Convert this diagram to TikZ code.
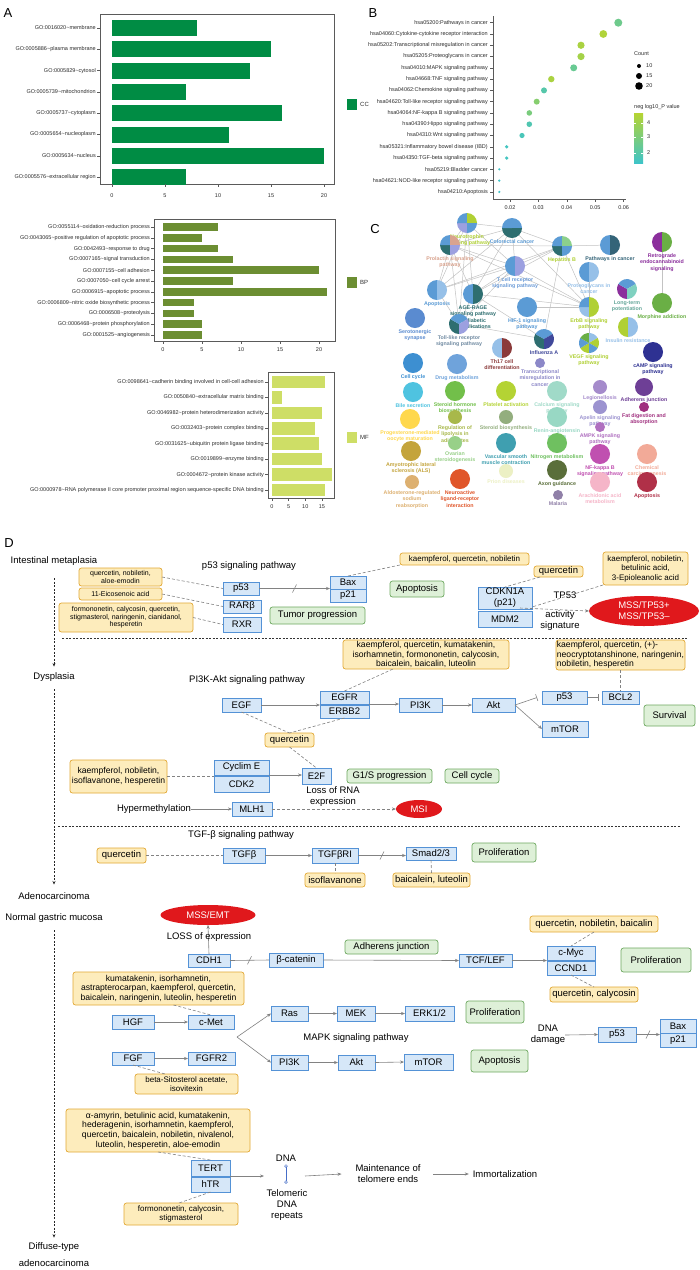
\documentclass[tikz,border=0pt]{standalone}
\usepackage{fontspec}
\setmainfont{Liberation Sans}
\usetikzlibrary{arrows.meta,shapes.geometric,calc}
\definecolor{ccg}{RGB}{0,140,68}
\definecolor{bpg}{RGB}{108,142,50}
\definecolor{mfg}{RGB}{206,222,102}
\definecolor{axc}{RGB}{90,90,90}
\definecolor{txc}{RGB}{45,45,45}
\definecolor{bl}{RGB}{62,196,200}
\definecolor{bh}{RGB}{182,212,50}
\definecolor{gbf}{RGB}{214,231,248}
\definecolor{gbd}{RGB}{84,146,214}
\definecolor{dbf}{RGB}{253,236,188}
\definecolor{dbd}{RGB}{226,168,52}
\definecolor{pbf}{RGB}{222,240,216}
\definecolor{pbd}{RGB}{110,168,96}
\definecolor{msr}{RGB}{224,24,28}
\definecolor{lnc}{RGB}{130,130,130}
\definecolor{dnab}{RGB}{70,110,200}
\definecolor{cedgec}{RGB}{195,195,195}
\definecolor{pb1}{RGB}{91,155,213}
\definecolor{plb}{RGB}{150,192,232}
\definecolor{pdt}{RGB}{46,110,112}
\definecolor{plp}{RGB}{156,160,224}
\definecolor{pyg}{RGB}{176,208,52}
\definecolor{pgl}{RGB}{140,208,140}
\definecolor{ptan}{RGB}{217,163,142}
\definecolor{pnv}{RGB}{64,72,154}
\definecolor{ppu}{RGB}{139,47,156}
\definecolor{pgr}{RGB}{106,175,69}
\definecolor{paq}{RGB}{127,209,192}
\definecolor{pdr}{RGB}{139,58,58}
\definecolor{pds}{RGB}{52,100,120}
\definecolor{pser}{RGB}{90,139,208}
\definecolor{pcam}{RGB}{46,49,146}
\definecolor{ptrm}{RGB}{140,136,200}
\definecolor{pccy}{RGB}{61,143,209}
\definecolor{pdru}{RGB}{111,163,219}
\definecolor{pbil}{RGB}{79,195,224}
\definecolor{psth}{RGB}{114,191,74}
\definecolor{ppla}{RGB}{180,211,52}
\definecolor{pcal}{RGB}{160,218,200}
\definecolor{pleg}{RGB}{165,139,203}
\definecolor{padh}{RGB}{110,63,150}
\definecolor{pape}{RGB}{156,147,208}
\definecolor{pfat}{RGB}{160,48,127}
\definecolor{pprg}{RGB}{255,216,77}
\definecolor{plip}{RGB}{168,184,74}
\definecolor{pstb}{RGB}{147,174,126}
\definecolor{pren}{RGB}{152,216,196}
\definecolor{pamp}{RGB}{176,112,192}
\definecolor{pova}{RGB}{152,208,136}
\definecolor{pals}{RGB}{196,164,60}
\definecolor{pvas}{RGB}{63,159,176}
\definecolor{pnit}{RGB}{111,192,96}
\definecolor{pnfk}{RGB}{192,80,176}
\definecolor{pche}{RGB}{242,170,152}
\definecolor{ppri}{RGB}{236,240,196}
\definecolor{paxo}{RGB}{90,110,58}
\definecolor{pald}{RGB}{221,176,112}
\definecolor{pnla}{RGB}{224,86,42}
\definecolor{para}{RGB}{245,181,200}
\definecolor{pap2}{RGB}{176,48,72}
\definecolor{pmal}{RGB}{144,128,168}
\newcommand\mybox[7]{\node[#1,minimum width={#5-#3},minimum height={#6-#4}] (#2) at ({(#3+#5)/2},{(#4+#6)/2}) {#7};}
\newcommand\cn[5]{%
  \foreach \pcol [count=\i] in {#3} {\xdef\pien{\i}}%
  \foreach \pcol [count=\i] in {#3} {%
    \pgfmathsetmacro\myang{90+(\i-1)*360/\pien}%
    \pgfmathsetmacro\mydel{360/\pien}%
    \fill[\pcol] (#1) -- ++(\myang:#2) arc[start angle=\myang, delta angle=\mydel, radius=#2] -- cycle;}%
  \node[clab,text=#4,anchor=north] (#1-l) at ($(#1)+(0,#2+1.5)$) {#5};}
\begin{document}
\begin{tikzpicture}[x=1pt,y=-1pt,
  tiny/.style={inner sep=0pt,text=txc,font=\fontsize{5.5}{6.5}\selectfont},
  ttl/.style={inner sep=0pt,font=\fontsize{13}{13}\selectfont},
  clab/.style={inner sep=0pt,align=center,font=\fontsize{5.3}{6.3}\selectfont\bfseries},
  cedge/.style={draw=cedgec,line width=0.5pt},
  mybase/.style={inner sep=0pt,outer sep=0pt,align=center},
  gb/.style={mybase,draw=gbd,fill=gbf,line width=0.7pt,font=\fontsize{9.5}{11}\selectfont},
  dbA/.style={mybase,draw=dbd,fill=dbf,rounded corners=2.5pt,line width=0.7pt,font=\fontsize{9.5}{11}\selectfont},
  dbB/.style={dbA,font=\fontsize{8.6}{9.7}\selectfont},
  dbC/.style={dbA,font=\fontsize{8}{9.5}\selectfont},
  dbD/.style={dbA,font=\fontsize{7}{7.5}\selectfont},
  pb/.style={mybase,draw=pbd,fill=pbf,rounded corners=2.5pt,line width=0.7pt,font=\fontsize{9.5}{11}\selectfont},
  dlab/.style={mybase,font=\fontsize{9.5}{11}\selectfont},
  ell/.style={mybase,ellipse,fill=msr,text=white,font=\fontsize{9.5}{11}\selectfont},
  arr/.style={draw=lnc,line width=0.6pt,-{Stealth[length=4pt,width=3.2pt]}},
  ln/.style={draw=lnc,line width=0.6pt},
  dsh/.style={draw=lnc,line width=0.6pt,dash pattern=on 3pt off 2pt},
  dsharr/.style={dsh,-{Stealth[length=4pt,width=3.2pt]}},
  inh/.style={ln,-{Bar[width=7pt]}},
  vda/.style={draw=black!85,line width=0.6pt,dash pattern=on 2pt off 1.5pt,-{Stealth[length=3.5pt,width=3pt]}}]
\useasboundingbox (0,0) rectangle (700,1270);
\fill[white] (0,0) rectangle (700,1270);
% ---------------- Panel A
\node[ttl] (tA) at (8,13) {A};
\draw[axc,line width=0.6pt] (100,14) rectangle (334,184);
\foreach \lab/\v [count=\i] in {GO:0016020\textasciitilde membrane/8,GO:0005886\textasciitilde plasma membrane/15,GO:0005829\textasciitilde cytosol/13,GO:0005739\textasciitilde mitochondrion/7,GO:0005737\textasciitilde cytoplasm/16,GO:0005654\textasciitilde nucleoplasm/11,GO:0005634\textasciitilde nucleus/20,GO:0005576\textasciitilde extracellular region/7}{
  \pgfmathsetmacro\yy{28+21.3*(\i-1)}
  \fill[ccg] (112,\yy-8) rectangle ({112+10.6*\v},\yy+8);
  \draw[axc,line width=0.5pt] (97,\yy) -- (100,\yy);
  \node[tiny,anchor=east] at (96,\yy) {\lab};
}
\foreach \t in {0,5,10,15,20}{
  \draw[axc,line width=0.5pt] ({112+10.6*\t},184) -- ({112+10.6*\t},187);
  \node[tiny] at ({112+10.6*\t},196) {\t};
}
\fill[ccg] (347,99) rectangle (357,110);
\node[tiny,anchor=west,font=\fontsize{6}{7}\selectfont] (lcc) at (360,104.5) {CC};
% BP
\draw[axc,line width=0.6pt] (154,219) rectangle (335,341);
\foreach \lab/\v [count=\i] in {GO:0055114\textasciitilde oxidation-reduction process/7,GO:0043065\textasciitilde positive regulation of apoptotic process/5,GO:0042493\textasciitilde response to drug/7,GO:0007165\textasciitilde signal transduction/9,GO:0007155\textasciitilde cell adhesion/20,GO:0007050\textasciitilde cell cycle arrest/9,GO:0006915\textasciitilde apoptotic process/21,GO:0006809\textasciitilde nitric oxide biosynthetic process/4,GO:0006508\textasciitilde proteolysis/4,GO:0006468\textasciitilde protein phosphorylation/5,GO:0001525\textasciitilde angiogenesis/5}{
  \pgfmathsetmacro\yy{227+10.8*(\i-1)}
  \fill[bpg] (163,\yy-3.8) rectangle ({163+7.8*\v},\yy+3.8);
  \draw[axc,line width=0.5pt] (151,\yy) -- (154,\yy);
  \node[tiny,anchor=east] at (150,\yy) {\lab};
}
\foreach \t in {0,5,10,15,20}{
  \draw[axc,line width=0.5pt] ({163+7.8*\t},341) -- ({163+7.8*\t},344);
  \node[tiny] at ({163+7.8*\t},350) {\t};
}
\fill[bpg] (347,277) rectangle (357,288);
\node[tiny,anchor=west,font=\fontsize{6}{7}\selectfont] (lbp) at (360,282.5) {BP};
% MF
\draw[axc,line width=0.6pt] (268,372) rectangle (334,498);
\foreach \lab/\v [count=\i] in {GO:0098641\textasciitilde cadherin binding involved in cell-cell adhesion/16,GO:0050840\textasciitilde extracellular matrix binding/3,GO:0046982\textasciitilde protein heterodimerization activity/15,GO:0032403\textasciitilde protein complex binding/13,GO:0031625\textasciitilde ubiquitin protein ligase binding/14,GO:0019899\textasciitilde enzyme binding/15,GO:0004672\textasciitilde protein kinase activity/18,GO:0000978\textasciitilde RNA polymerase II core promoter proximal region sequence-specific DNA binding/16}{
  \pgfmathsetmacro\yy{382+15.43*(\i-1)}
  \fill[mfg] (272,\yy-6.3) rectangle ({272+3.33*\v},\yy+6.3);
  \draw[axc,line width=0.5pt] (265,\yy) -- (268,\yy);
  \node[tiny,anchor=east] at (264,\yy) {\lab};
}
\foreach \t in {0,5,10,15}{
  \draw[axc,line width=0.5pt] ({272+3.33*\t},498) -- ({272+3.33*\t},501);
  \node[tiny] at ({272+3.33*\t},507) {\t};
}
\fill[mfg] (347,432) rectangle (357,443);
\node[tiny,anchor=west,font=\fontsize{6}{7}\selectfont] (lmf) at (360,437.5) {MF};
% ---------------- Panel B
\node[ttl] (tB) at (373,13) {B};
\draw[axc,line width=0.6pt] (493,16) -- (493,199) -- (626,199);
\foreach \lab/\px/\rr/\m [count=\i] in {hsa05200:Pathways in cancer/618.3/4/40,hsa04060:Cytokine-cytokine receptor interaction/603.3/3.9/95,hsa05202:Transcriptional misregulation in cancer/581/3.6/90,hsa05205:Proteoglycans in cancer/581/3.6/85,hsa04010:MAPK signaling pathway/573.7/3.5/35,hsa04668:TNF signaling pathway/551.3/3.2/90,hsa04062:Chemokine signaling pathway/544/3/20,hsa04620:Toll-like receptor signaling pathway/536.7/3/60,hsa04064:NF-kappa B signaling pathway/529.3/2.8/50,hsa04390:Hippo signaling pathway/529.3/2.8/15,hsa04310:Wnt signaling pathway/522/2.6/10,hsa05321:Inflammatory bowel disease (IBD)/506.7/1.8/5,hsa04350:TGF-beta signaling pathway/506.7/1.8/5,hsa05219:Bladder cancer/499.3/1.2/0,hsa04621:NOD-like receptor signaling pathway/499.3/1.2/0,hsa04210:Apoptosis/499.3/1.2/0}{
  \pgfmathsetmacro\yy{22.7+11.28*(\i-1)}
  \draw[axc,line width=0.5pt] (490,\yy) -- (493,\yy);
  \node[tiny,anchor=east] at (488,\yy) {\lab};
  \fill[bh!\m!bl] (\px,\yy) circle[radius=\rr];
}
\foreach \t/\tl in {0/0.02,1/0.03,2/0.04,3/0.05,4/0.06}{
  \draw[axc,line width=0.5pt] ({510+28.4*\t},199) -- ({510+28.4*\t},202);
  \node[tiny] at ({510+28.4*\t},208) {\tl};
}
\node[tiny,anchor=west] (lcount) at (634,54) {Count};
\fill[black] (639,66) circle[radius=2];
\fill[black] (639,76) circle[radius=3];
\fill[black] (639,86) circle[radius=3.8];
\node[tiny,anchor=west] (l10) at (646,66) {10};
\node[tiny,anchor=west] (l15) at (646,76) {15};
\node[tiny,anchor=west] (l20) at (646,86) {20};
\node[tiny,anchor=west] (lneg) at (634,107) {neg log10\_P value};
\shade[top color=bh,bottom color=bl] (634,113) rectangle (643,163);
\foreach \yv/\tl in {123/4,137/3,153/2}{
  \draw[white,line width=0.4pt] (634,\yv) -- (636,\yv) (641,\yv) -- (643,\yv);
  \node[tiny,anchor=west] at (647,\yv) {\tl};
}
% ---------------- Panel C
\node[ttl] (tC) at (375,229) {C};
\coordinate (cNeu) at (467,223); \coordinate (cCol) at (512,228);
\coordinate (cPro) at (450,245); \coordinate (cHep) at (562,246);
\coordinate (cPic) at (610,245); \coordinate (cRet) at (662,242);
\coordinate (cTce) at (515,266); \coordinate (cPtg) at (589,272);
\coordinate (cLtp) at (627,289); \coordinate (cApo) at (437,290);
\coordinate (cAge) at (473,294); \coordinate (cMor) at (662,303);
\coordinate (cHif) at (527,307); \coordinate (cErb) at (589,307);
\coordinate (cSer) at (415,318); \coordinate (cTol) at (459,324);
\coordinate (cIns) at (628,327); \coordinate (cInf) at (544,339);
\coordinate (cVeg) at (589,343); \coordinate (cTh) at (502,348);
\coordinate (cCam) at (653,352); \coordinate (cTrm) at (540,363);
\coordinate (cCcy) at (413,363); \coordinate (cDru) at (457,364);
\coordinate (cBil) at (413,392); \coordinate (cSth) at (455,391);
\coordinate (cPla) at (506,391); \coordinate (cCal) at (557,391);
\coordinate (cLeg) at (600,387); \coordinate (cAdh) at (644,387);
\coordinate (cApe) at (600,407); \coordinate (cFat) at (644,407);
\coordinate (cPrg) at (410,419); \coordinate (cLip) at (455,417);
\coordinate (cStb) at (506,417); \coordinate (cRen) at (557,417);
\coordinate (cAmp) at (600,427); \coordinate (cOva) at (455,443);
\coordinate (cAls) at (411,451); \coordinate (cVas) at (506,443);
\coordinate (cNit) at (557,443); \coordinate (cNfk) at (600,454);
\coordinate (cChe) at (647,454); \coordinate (cPri) at (506,471);
\coordinate (cAxo) at (557,470); \coordinate (cAld) at (412,482);
\coordinate (cNla) at (460,479); \coordinate (cAra) at (600,482);
\coordinate (cApt) at (647,482); \coordinate (cMal) at (558,495);
\foreach \a/\b in {cNeu/cCol,cNeu/cPro,cNeu/cApo,cNeu/cAge,cNeu/cTol,cNeu/cTce,cCol/cPro,cCol/cHep,cCol/cTce,cCol/cAge,cCol/cErb,cCol/cApo,cPro/cTce,cPro/cApo,cPro/cAge,cPro/cErb,cPro/cHep,cPro/cTol,cHep/cPic,cHep/cTce,cHep/cAge,cHep/cErb,cHep/cApo,cTce/cApo,cTce/cErb,cTce/cTol,cTce/cAge,cAge/cInf,cAge/cErb,cHif/cErb,cErb/cPtg,cErb/cVeg,cApo/cTol,cRet/cMor,cTol/cInf,cHep/cInf,cAge/cTol}
  \draw[cedge] (\a) -- (\b);
\cn{cNeu}{10}{plp,pb1,pyg,pb1}{pyg}{Neurotrophin\\signaling pathway}
\cn{cCol}{10}{pdt,pb1,pb1,pdt}{pb1}{Colorectal cancer}
\cn{cPro}{10}{pdt,pb1,ptan,plp}{ptan}{Prolactin signaling\\pathway}
\cn{cHep}{10}{pdt,pb1,pgl,pb1}{pyg}{Hepatitis B}
\cn{cPic}{10}{pb1,pds}{pds}{Pathways in cancer}
\cn{cRet}{10}{ppu,pgr}{ppu}{Retrograde\\endocannabinoid\\signaling}
\cn{cTce}{10}{pb1,plp}{pb1!70!plp}{T cell receptor\\signaling pathway}
\cn{cPtg}{10}{pb1,plb}{plb}{Proteoglycans in\\cancer}
\cn{cLtp}{10}{ppu,pb1,paq}{paq!80!black}{Long-term\\potentiation}
\cn{cApo}{10}{pb1,plb}{pb1}{Apoptosis}
\cn{cAge}{10}{pb1,pdt}{pdt}{AGE-RAGE\\signaling pathway\\in diabetic\\complications}
\cn{cMor}{10}{pgr}{pgr}{Morphine addiction}
\cn{cHif}{10}{pb1}{pb1}{HIF-1 signaling\\pathway}
\cn{cErb}{10}{plb,pb1,pyg,pyg}{pyg}{ErbB signaling\\pathway}
\cn{cSer}{10}{pser}{pser}{Serotonergic\\synapse}
\cn{cTol}{10}{pdt,pb1,plp}{lnc!60!pb1}{Toll-like receptor\\signaling pathway}
\cn{cIns}{10}{pyg,plb}{plb}{Insulin resistance}
\cn{cInf}{10}{pdt,pb1,pnv}{pnv}{Influenza A}
\cn{cVeg}{10}{pyg,pb1,pgr,plb,pyg,pb1}{pyg}{VEGF signaling\\pathway}
\cn{cTh}{10}{plb,pdr}{pdr}{Th17 cell\\differentiation}
\cn{cCam}{10}{pcam}{pcam}{cAMP signaling\\pathway}
\cn{cTrm}{5}{ptrm}{ptrm}{Transcriptional\\misregulation in\\cancer}
\cn{cCcy}{10}{pccy}{pccy}{Cell cycle}
\cn{cDru}{10}{pdru}{pdru}{Drug metabolism}
\cn{cBil}{10}{pbil}{pbil}{Bile secretion}
\cn{cSth}{10}{psth}{psth}{Steroid hormone\\biosynthesis}
\cn{cPla}{10}{ppla}{ppla}{Platelet activation}
\cn{cCal}{10}{pcal}{pcal}{Calcium signaling\\pathway}
\cn{cLeg}{7}{pleg}{pleg}{Legionellosis}
\cn{cAdh}{9}{padh}{padh}{Adherens junction}
\cn{cApe}{7}{pape}{pape}{Apelin signaling\\pathway}
\cn{cFat}{5}{pfat}{pfat}{Fat digestion and\\absorption}
\cn{cPrg}{10}{pprg}{pprg}{Progesterone-mediated\\oocyte maturation}
\cn{cLip}{7}{plip}{plip}{Regulation of\\lipolysis in\\adipocytes}
\cn{cStb}{7}{pstb}{pstb}{Steroid biosynthesis}
\cn{cRen}{10}{pren}{pren}{Renin-angiotensin\\system}
\cn{cAmp}{5}{pamp}{pamp}{AMPK signaling\\pathway}
\cn{cOva}{7}{pova}{pova}{Ovarian\\steroidogenesis}
\cn{cAls}{10}{pals}{pals}{Amyotrophic lateral\\sclerosis (ALS)}
\cn{cVas}{10}{pvas}{pvas}{Vascular smooth\\muscle contraction}
\cn{cNit}{10}{pnit}{pnit}{Nitrogen metabolism}
\cn{cNfk}{10}{pnfk}{pnfk}{NF-kappa B\\signaling pathway}
\cn{cChe}{10}{pche}{pche}{Chemical\\carcinogenesis}
\cn{cPri}{7}{ppri}{ppri}{Prion diseases}
\cn{cAxo}{10}{paxo}{paxo}{Axon guidance}
\cn{cAld}{7}{pald}{pald}{Aldosterone-regulated\\sodium\\reabsorption}
\cn{cNla}{10}{pnla}{pnla}{Neuroactive\\ligand-receptor\\interaction}
\cn{cAra}{10}{para}{para}{Arachidonic acid\\metabolism}
\cn{cApt}{10}{pap2}{pap2}{Apoptosis}
\cn{cMal}{5}{pmal}{pmal}{Malaria}
% ---------------- Panel D
\node[ttl] (tD) at (9,543) {D};
\node[dlab] (im) at (54,561) {Intestinal metaplasia};
\node[dlab] (dys) at (54,677) {Dysplasia};
\node[dlab] (adeno) at (54,896) {Adenocarcinoma};
\node[dlab] (norm) at (54,918) {Normal gastric mucosa};
\node[dlab] (diff1) at (54,1247) {Diffuse-type};
\node[dlab] (diff2) at (54,1263) {adenocarcinoma};
\draw[vda] ($(im.south)+(0,13)$) -- ($(dys.north)+(0,-6)$);
\draw[vda] ($(dys.south)+(0,8)$) -- ($(adeno.north)+(0,-8)$);
\draw[vda] ($(norm.south)+(0,8)$) -- ($(diff1.north)+(0,-5)$);
\draw[black!80,line width=0.6pt,dash pattern=on 2pt off 1.5pt] (62,638) -- (687,638);
\draw[black!80,line width=0.6pt,dash pattern=on 2pt off 1.5pt] (58,826) -- (681,826);
% row 1 p53
\node[dlab] (p53t) at (249,566) {p53 signaling pathway};
\mybox{dbD}{d1}{79}{568}{162}{586}{quercetin, nobiletin,\\aloe-emodin}
\mybox{dbD}{d2}{79}{588}{162}{600}{11-Eicosenoic acid}
\mybox{dbD}{d3}{59}{603}{193}{632}{formononetin, calycosin, quercetin,\\stigmasterol, naringenin, cianidanol,\\hesperetin}
\mybox{gb}{p53a}{223}{582}{259}{595}{p53}
\mybox{gb}{rarb}{223}{600}{261}{613}{RARβ}
\mybox{gb}{rxr}{223}{617}{261}{632}{RXR}
\mybox{gb}{bax1}{330}{576}{366}{589}{Bax}
\mybox{gb}{p21a}{330}{589}{366}{602}{p21}
\mybox{dbC}{d4}{400}{553}{529}{565}{kaempferol, quercetin, nobiletin}
\mybox{pb}{apo1}{390}{581}{444}{597}{Apoptosis}
\mybox{pb}{tumor}{270}{607}{365}{624}{Tumor progression}
\mybox{dbA}{d5}{534}{566}{583}{577}{quercetin}
\mybox{dbC}{d6}{603}{552}{688}{585}{kaempferol, nobiletin,\\betulinic acid,\\3-Epioleanolic acid}
\mybox{gb}{cdkn}{478}{587}{532}{609}{CDKN1A\\(p21)}
\mybox{gb}{mdm2}{478}{611}{532}{627}{MDM2}
\node[ell,minimum width=110,minimum height=30] (mss1) at (644,611) {MSS/TP53+\\MSS/TP53–};
\node[dlab] (tp53) at (565,595) {TP53};
\node[dlab] (actsig) at (560,621) {activity\\signature};
\draw[dsh] (d1.east) -- (p53a.west);
\draw[dsh] (d2.east) -- (rarb.west);
\draw[dsh] (d3.east) -- (rxr.west);
\draw[arr] (p53a.east) -- (p53a.east -| p21a.west);
\draw[ln] ($(p53a.east)!0.5!(p53a.east -| p21a.west)+(-2,4)$) -- ++(4,-8);
\draw[dsh] (bax1.north) -- (d4.south west);
\draw[dsh] ($(d5.south west)+(6,0)$) -- (cdkn.north);
\draw[dsh] (d6.south west) -- ($(cdkn.south east)+(0,-2)$);
\draw[dsharr] ($(cdkn.south east)+(-12,-1)$) -- (mss1.west);
% row 2 PI3K
\node[dlab] (pi3kt) at (247,680) {PI3K-Akt signaling pathway};
\mybox{dbB}{d7}{343}{640}{509}{669}{kaempferol, quercetin, kumatakenin,\\isorhamnetin, formononetin, calycosin,\\baicalein, baicalin, luteolin}
\node[dbB,align=left,minimum width=129,minimum height=30] (d8) at (620.5,655) {kaempferol, quercetin, (+)-\\neocryptotanshinone, naringenin,\\nobiletin, hesperetin};
\mybox{gb}{egfr}{320}{691}{369}{704}{EGFR}
\mybox{gb}{erbb2}{320}{705}{369}{718}{ERBB2}
\mybox{gb}{egf}{222}{698}{261}{712}{EGF}
\mybox{gb}{pi3ka}{399}{698}{442}{712}{PI3K}
\mybox{gb}{akta}{472}{698}{515}{712}{Akt}
\mybox{gb}{p53b}{542}{691}{587}{704}{p53}
\mybox{gb}{bcl2}{602}{691}{639}{704}{BCL2}
\mybox{pb}{surv}{644}{705}{695}{726}{Survival}
\mybox{gb}{mtora}{542}{721}{588}{737}{mTOR}
\mybox{dbA}{q2}{265}{733}{314}{747}{quercetin}
\mybox{dbB}{d9}{70}{760}{167}{793}{kaempferol, nobiletin,\\isoflavanone, hesperetin}
\mybox{gb}{cyce}{214}{760}{269}{775}{Cyclim E}
\mybox{gb}{cdk2}{214}{776}{269}{792}{CDK2}
\mybox{gb}{e2f}{302}{768}{331}{784}{E2F}
\mybox{pb}{g1s}{347}{769}{432}{783}{G1/S progression}
\mybox{pb}{ccyc}{445}{769}{499}{783}{Cell cycle}
\node[dlab] (lossrna) at (333,797) {Loss of RNA\\expression};
\node[dlab] (hyper) at (154,809) {Hypermethylation};
\mybox{gb}{mlh1}{232}{802}{272}{816}{MLH1}
\node[ell,minimum width=46,minimum height=18] (msi) at (419,809) {MSI};
\draw[arr] (egf.east) -- (egf.east -| egfr.west);
\draw[arr] (egfr.south east) -- (egfr.south east -| pi3ka.west);
\draw[arr] (pi3ka.east) -- (akta.west);
\draw[inh] (akta.east) -- ($(p53b.west)+(-5,0)$);
\draw[inh] (p53b.east) -- ($(bcl2.west)+(-3,0)$);
\draw[arr] (akta.east) -- (mtora.west);
\draw[dsh] (d8.south -| bcl2.north) -- (bcl2.north);
\draw[dsh] (egfr.north) -- ($(d7.south west)+(50,0)$);
\draw[dsh] (egf.south) -- (q2.north);
\draw[dsh] (erbb2.south) -- (q2.north);
\draw[dsh] (q2.south) -- (e2f.north);
\draw[dsh] (d9.east) -- (d9.east -| cyce.west);
\draw[arr] (cyce.south east) -- (cyce.south east -| e2f.west);
\draw[arr] (hyper.east) -- (mlh1.west);
\draw[dsharr] (mlh1.east) -- (msi.west);
% row 3 TGF
\node[dlab] (tgft) at (241,835) {TGF-β signaling pathway};
\mybox{dbA}{q3}{97}{848}{146}{863}{quercetin}
\mybox{gb}{tgfb}{223}{848}{265}{863}{TGFβ}
\mybox{gb}{tgfbr}{312}{848}{358}{863}{TGFβRI}
\mybox{gb}{smad}{406}{847}{456}{860}{Smad2/3}
\mybox{pb}{prolif1}{472}{843}{536}{862}{Proliferation}
\mybox{dbA}{isofl}{305}{873}{365}{887}{isoflavanone}
\mybox{dbA}{baic}{393}{873}{470}{887}{baicalein, luteolin}
\draw[dsh] (q3.east) -- (tgfb.west);
\draw[arr] (tgfb.east) -- (tgfbr.west);
\draw[arr] (tgfbr.east) -- (tgfbr.east -| smad.west);
\draw[ln] ($(tgfbr.east)!0.5!(tgfbr.east -| smad.west)+(-2,4)$) -- ++(4,-8);
\draw[dsh] (tgfbr.south) -- (isofl.north);
\draw[dsh] (smad.south) -- (baic.north);
% row 4
\node[ell,minimum width=95,minimum height=20] (mssemt) at (208,915) {MSS/EMT};
\mybox{gb}{cdh1}{188}{954}{230}{967}{CDH1}
\draw[arr] (cdh1.north) -- (mssemt.south);
\node[dlab] (lossexp) at (209,937) {LOSS of expression};
\mybox{dbA}{d10}{530}{916}{658}{932}{quercetin, nobiletin, baicalin}
\mybox{pb}{adh}{345}{940}{438}{954}{Adherens junction}
\mybox{gb}{cmyc}{547}{946}{595}{960}{c-Myc}
\mybox{gb}{ccnd1}{547}{961}{595}{975}{CCND1}
\mybox{pb}{prolif2}{621}{948}{691}{972}{Proliferation}
\mybox{gb}{bcat}{269}{953}{323}{967}{β-catenin}
\mybox{gb}{tcf}{459}{954}{512}{967}{TCF/LEF}
\mybox{dbA}{d11}{550}{987}{638}{1002}{quercetin, calycosin}
\mybox{dbB}{d12}{73}{972}{244}{1005}{kumatakenin, isorhamnetin,\\astrapterocarpan, kaempferol, quercetin,\\baicalein, naringenin, luteolin, hesperetin}
\mybox{gb}{hgf}{112}{1015}{154}{1029}{HGF}
\mybox{gb}{cmet}{188}{1015}{234}{1029}{c-Met}
\mybox{gb}{ras}{271}{1006}{308}{1021}{Ras}
\mybox{gb}{mek}{337}{1006}{375}{1021}{MEK}
\mybox{gb}{erk}{405}{1006}{454}{1021}{ERK1/2}
\mybox{pb}{prolif3}{466}{1001}{524}{1023}{Proliferation}
\node[dlab] (mapkt) at (356,1038) {MAPK signaling pathway};
\node[dlab] (dnad) at (548,1035) {DNA\\damage};
\mybox{gb}{p53c}{598}{1027}{636}{1042}{p53}
\mybox{gb}{bax2}{660}{1019}{696}{1033}{Bax}
\mybox{gb}{p21b}{660}{1033}{696}{1047}{p21}
\mybox{gb}{fgf}{112}{1052}{154}{1065}{FGF}
\mybox{gb}{fgfr2}{188}{1052}{235}{1065}{FGFR2}
\mybox{gb}{pi3kb}{271}{1055}{308}{1070}{PI3K}
\mybox{gb}{aktb}{338}{1055}{375}{1070}{Akt}
\mybox{gb}{mtorb}{404}{1054}{453}{1070}{mTOR}
\mybox{pb}{apo2}{471}{1050}{528}{1072}{Apoptosis}
\mybox{dbC}{d13}{135}{1074}{238}{1094}{beta-Sitosterol acetate,\\isovitexin}
\coordinate (br) at (237,1037);
\draw[ln] (cdh1.east) -- (bcat.west);
\draw[ln] ($(cdh1.east)!0.5!(bcat.west)+(-2,4)$) -- ++(4,-8);
\draw[arr] (bcat.east) -- (tcf.west);
\draw[arr] (tcf.east) -- (tcf.east -| cmyc.west);
\draw[dsh] (d10.south) -- (cmyc.north);
\draw[dsh] (ccnd1.south) -- (d11.north);
\draw[dsh] ($(d12.south)+(15,0)$) -- (cmet.north);
\draw[arr] (hgf.east) -- (cmet.west);
\draw[arr] (br) -- (ras.west);
\draw[arr] (br) -- (pi3kb.west);
\draw[arr] (ras.east) -- (mek.west);
\draw[arr] (mek.east) -- (erk.west);
\draw[arr] (pi3kb.east) -- (aktb.west);
\draw[arr] (aktb.east) -- (mtorb.west);
\draw[arr] (dnad.east) -- (p53c.west);
\draw[arr] (p53c.east) -- (p53c.east -| bax2.west);
\draw[ln] ($(p53c.east)!0.5!(p53c.east -| bax2.west)+(-2,4)$) -- ++(4,-8);
\draw[arr] (fgf.east) -- (fgfr2.west);
\draw[dsh] (fgf.south) -- ($(d13.north west)+(30,0)$);
% telomere
\mybox{dbB}{d14}{66}{1109}{250}{1152}{α-amyrin, betulinic acid, kumatakenin,\\hederagenin, isorhamnetin, kaempferol,\\quercetin, baicalein, nobiletin, nivalenol,\\luteolin, hesperetin, aloe-emodin}
\mybox{gb}{tert}{191}{1160}{230}{1176}{TERT}
\mybox{gb}{htr}{191}{1177}{230}{1192}{hTR}
\mybox{dbC}{d15}{124}{1203}{238}{1225}{formononetin, calycosin,\\stigmasterol}
\node[dlab] (dnal) at (286,1158) {DNA};
\node[dlab] (telo) at (287,1205) {Telomeric\\DNA\\repeats};
\coordinate (dtop) at (286,1166);
\coordinate (dbot) at (286,1182);
\draw[dnab,line width=0.7pt] (dtop) -- (dbot);
\draw[dnab,line width=0.5pt,fill=white] (dtop) circle[radius=1.4] (dbot) circle[radius=1.4];
\node[dlab] (maint) at (388,1174) {Maintenance of\\telomere ends};
\node[dlab] (immo) at (505,1174) {Immortalization};
\draw[dsh] (d14.south) -- (tert.north);
\draw[dsh] (htr.south) -- ($(d15.north)+(-2,0)$);
\draw[arr] (tert.south east) -- ($(tert.south east -| dtop)+(-22,0)$);
\draw[arr] ($(tert.south east -| dtop)+(19,0)$) -- ($(maint.west)+(-14,0)$);
\draw[arr] ($(maint.east)+(13,0)$) -- ($(immo.west)+(-4,0)$);
\end{tikzpicture}
\end{document}
